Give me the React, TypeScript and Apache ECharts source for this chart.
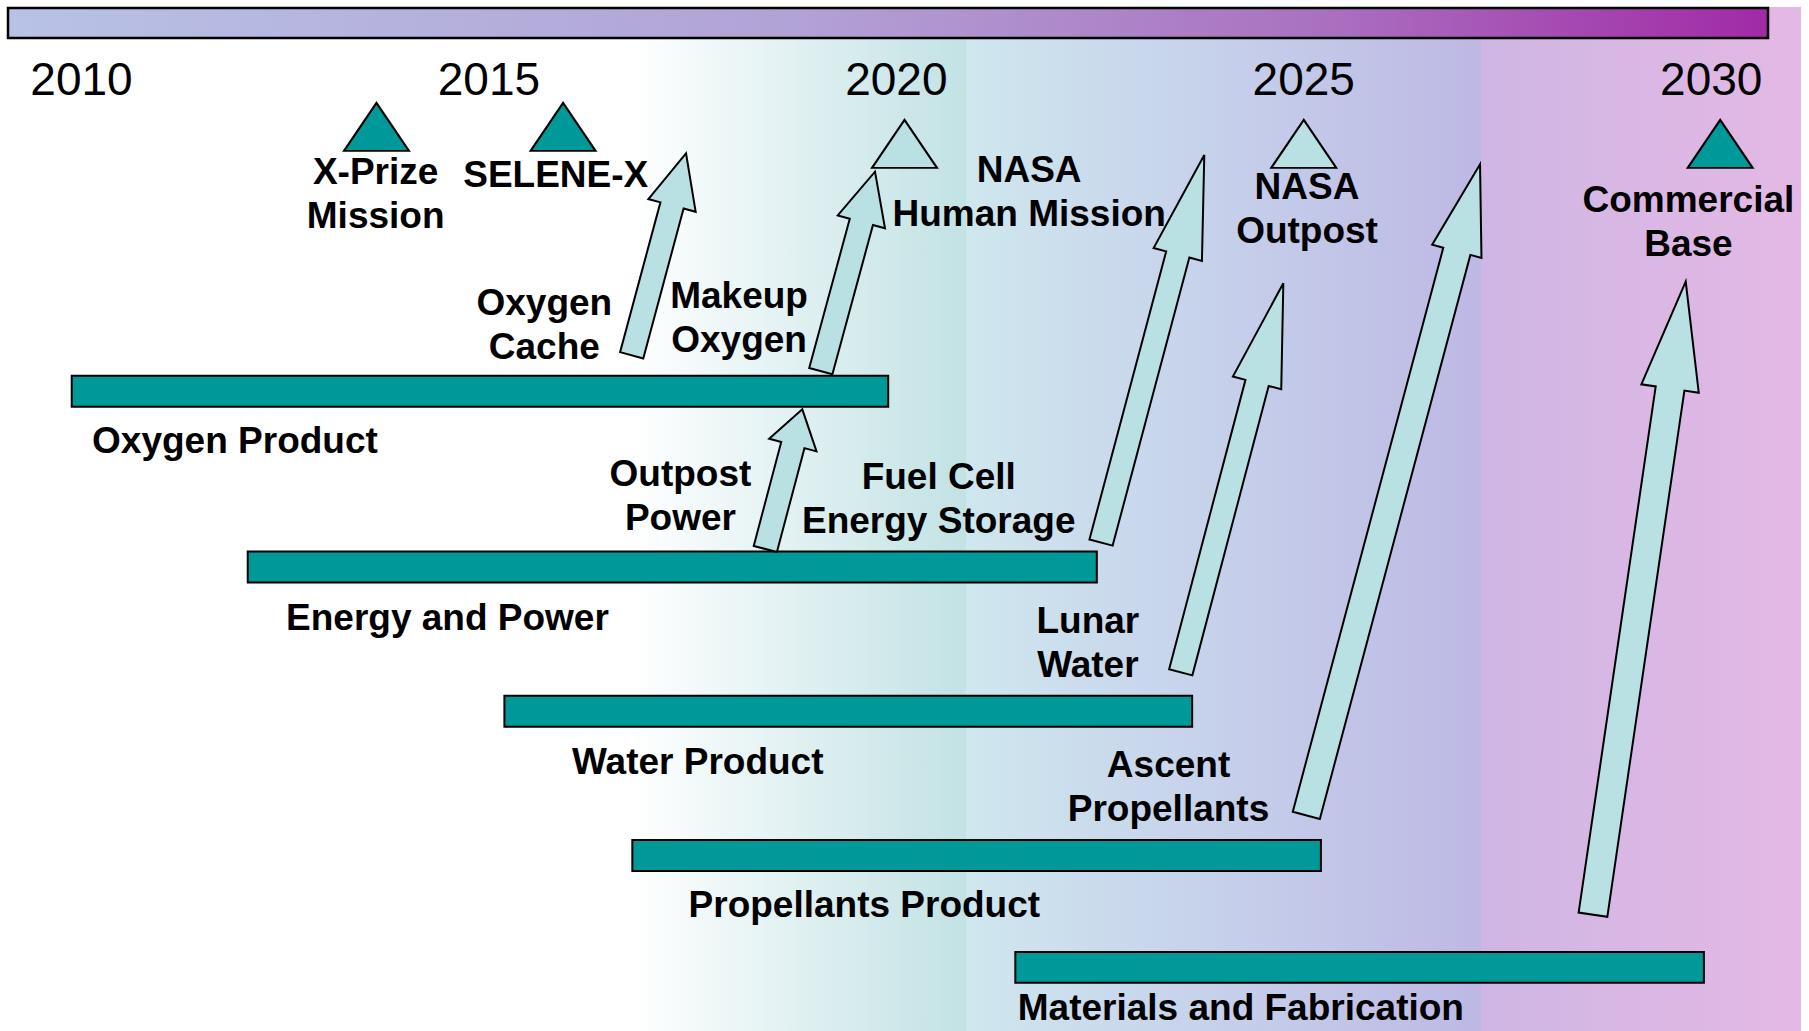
import React, { useEffect, useRef } from 'react';
import * as echarts from 'echarts';

const FONT = '"Liberation Sans", Arial, Helvetica, sans-serif';

// ---- axis ranges (x = calendar year, y = vertical level 0..100, top to bottom)
const YEAR_MIN = 2009;
const YEAR_MAX = 2031.2;
const LEVEL_MIN = 0;
const LEVEL_MAX = 100;
const YEAR_TICKS_EVERY = 5;

// ---- product development bars
const barNames = ['Oxygen Product', 'Energy and Power', 'Water Product', 'Propellants Product', 'Materials and Fabrication'];
const barStart = [2009.88, 2012.04, 2015.19, 2016.76, 2021.46];
const barEnd = [2019.9, 2022.46, 2023.63, 2025.21, 2029.91];
const barLevel = [37.94, 55.0, 68.99, 82.98, 93.83];
const barLabelYear = [2010.13, 2012.51, 2016.02, 2017.45, 2021.49];
const barLabelLevel = [42.74, 59.86, 73.85, 87.73, 97.7];

// ---- milestones (triangles)
const milestoneNames = ['X-Prize\nMission', 'SELENE-X', 'NASA\nHuman Mission', 'NASA\nOutpost', 'Commercial\nBase'];
const milestoneYear = [2013.62, 2015.91, 2020.1, 2025.0, 2030.11];
const milestoneLevel = [12.3, 12.3, 13.95, 13.95, 13.95];
const milestoneFilled = [true, true, false, false, true];
const milestoneLabelYear = [2013.61, 2015.82, 2021.63, 2025.04, 2029.72];
const milestoneLabelLevel = [18.72, 16.88, 18.53, 20.27, 21.53];

// ---- transfer arrows (from a product bar towards a milestone)
const arrowNames = ['Oxygen\nCache', 'Makeup\nOxygen', 'Outpost\nPower', 'Fuel Cell\nEnergy Storage', 'Lunar\nWater', 'Ascent\nPropellants', ''];
const arrowFromYear = [2016.752, 2019.073, 2018.392, 2022.512, 2023.49, 2025.031, 2028.549];
const arrowFromLevel = [34.46, 36.0, 53.25, 52.62, 65.21, 79.08, 88.72];
const arrowToYear = [2017.419, 2019.738, 2018.846, 2023.779, 2024.749, 2027.163, 2029.687];
const arrowToLevel = [14.87, 16.65, 39.7, 15.03, 27.48, 15.94, 27.32];
const arrowLabelYear = [2015.68, 2018.07, 2017.35, 2020.52, 2022.35, 2023.34];
const arrowLabelLevel = [31.43, 30.75, 48.06, 48.38, 62.27, 76.26];

// ---- arrow geometry (pixels)
const arrowShaftWidth = [24, 24, 24, 24, 24, 28, 29];
const arrowHeadWidth = [49, 49, 49, 50, 50, 51, 58];
const arrowHeadLength = [54, 52, 37, 103, 103, 90, 108];

// ---- colours
const TEAL = '#009999';
const LIGHT = '#b9e0e2';

type Label = { text: string; x: number; y: number; align: 'left' | 'center' };

const labels: Label[] = [
  ...barNames.map((t, i) => ({ text: t, x: barLabelYear[i], y: barLabelLevel[i], align: 'left' as const })),
  ...milestoneNames.map((t, i) => ({ text: t, x: milestoneLabelYear[i], y: milestoneLabelLevel[i], align: 'center' as const })),
  ...arrowNames
    .map((t, i) => ({ text: t, x: arrowLabelYear[i], y: arrowLabelLevel[i], align: 'center' as const }))
    .filter((l) => l.text !== ''),
];

function buildOption(): any {
  return {
    animation: false,
    grid: { left: 0, right: 0, top: 0, bottom: 0, containLabel: false },
    xAxis: {
      type: 'value',
      position: 'top',
      min: YEAR_MIN,
      max: YEAR_MAX,
      interval: 1,
      axisLine: { show: false },
      axisTick: { show: false },
      splitLine: { show: false },
      axisLabel: {
        inside: true,
        margin: 56,
        fontSize: 46,
        fontFamily: FONT,
        color: '#000',
        showMinLabel: false,
        showMaxLabel: false,
        formatter: (v: number) => (Math.abs(v % YEAR_TICKS_EVERY) < 1e-6 ? String(Math.round(v)) : ''),
      },
    },
    yAxis: {
      type: 'value',
      min: LEVEL_MIN,
      max: LEVEL_MAX,
      inverse: true,
      show: false,
    },
    graphic: [
      {
        type: 'rect',
        z: -5,
        silent: true,
        shape: { x: 0, y: 7, width: 1801, height: 1024 },
        style: {
          fill: new echarts.graphic.LinearGradient(0, 0, 1, 0, [
            { offset: 0, color: '#ffffff' },
            { offset: 0.35, color: '#ffffff' },
            { offset: 0.536, color: '#c2e2e4' },
            { offset: 0.5365, color: '#cfe7ee' },
            { offset: 0.66, color: '#c7d3eb' },
            { offset: 0.822, color: '#bdb8e4' },
            { offset: 0.8225, color: '#cfb6e4' },
            { offset: 1, color: '#e4b8e4' },
          ]),
        },
      },
      {
        type: 'rect',
        z: -4,
        silent: true,
        shape: { x: 8, y: 8, width: 1760, height: 30 },
        style: {
          fill: new echarts.graphic.LinearGradient(0, 0, 1, 0, [
            { offset: 0, color: '#b8c2e6' },
            { offset: 0.45, color: '#b2a2d5' },
            { offset: 0.75, color: '#aa70c0' },
            { offset: 1, color: '#a12aa6' },
          ]),
          stroke: '#000',
          lineWidth: 2.5,
        },
      },
    ],
    series: [
      {
        type: 'custom',
        name: 'products',
        z: 3,
        silent: true,
        encode: { x: [0, 1], y: 2 },
        data: barNames.map((_, i) => [barStart[i], barEnd[i], barLevel[i]]),
        renderItem: (params: any, api: any) => {
          const p1 = api.coord([api.value(0), api.value(2)]);
          const p2 = api.coord([api.value(1), api.value(2)]);
          const h = api.size([0, 3])[1];
          return {
            type: 'rect',
            shape: { x: p1[0], y: p1[1] - h / 2, width: p2[0] - p1[0], height: h },
            style: { fill: TEAL, stroke: '#000', lineWidth: 2 },
          };
        },
      },
      {
        type: 'custom',
        name: 'transfers',
        z: 4,
        silent: true,
        encode: { x: [0, 2], y: [1, 3] },
        data: arrowFromYear.map((x, i) => [x, arrowFromLevel[i], arrowToYear[i], arrowToLevel[i]]),
        renderItem: (params: any, api: any) => {
          const i = params.dataIndex;
          const t = api.coord([api.value(0), api.value(1)]);
          const p = api.coord([api.value(2), api.value(3)]);
          const dx = p[0] - t[0];
          const dy = p[1] - t[1];
          const len = Math.hypot(dx, dy);
          const ux = dx / len;
          const uy = dy / len;
          const nx = -uy;
          const ny = ux;
          const s = arrowShaftWidth[i] / 2;
          const h = arrowHeadWidth[i] / 2;
          const L = arrowHeadLength[i];
          const bx = p[0] - ux * L;
          const by = p[1] - uy * L;
          const pts = [
            [t[0] + nx * s, t[1] + ny * s],
            [bx + nx * s, by + ny * s],
            [bx + nx * h, by + ny * h],
            [p[0], p[1]],
            [bx - nx * h, by - ny * h],
            [bx - nx * s, by - ny * s],
            [t[0] - nx * s, t[1] - ny * s],
          ];
          return {
            type: 'polygon',
            shape: { points: pts },
            style: { fill: LIGHT, stroke: '#000', lineWidth: 2, lineJoin: 'miter' },
          };
        },
      },
      {
        type: 'scatter',
        name: 'milestones',
        z: 5,
        silent: true,
        symbol: 'triangle',
        symbolSize: [65, 48],
        itemStyle: { borderColor: '#000', borderWidth: 2, opacity: 1 },
        data: milestoneYear.map((x, i) => ({
          value: [x, milestoneLevel[i]],
          itemStyle: { color: milestoneFilled[i] ? TEAL : LIGHT },
        })),
      },
      {
        type: 'custom',
        name: 'labels',
        z: 6,
        silent: true,
        encode: { x: 0, y: 1 },
        data: labels.map((l) => [l.x, l.y]),
        renderItem: (params: any, api: any) => {
          const l = labels[params.dataIndex];
          const p = api.coord([api.value(0), api.value(1)]);
          const multi = l.text.indexOf('\n') >= 0;
          return {
            type: 'text',
            x: p[0],
            y: p[1],
            style: {
              text: l.text,
              fontSize: 37,
              fontWeight: 'bold',
              fontFamily: FONT,
              fill: '#000',
              align: l.align,
              verticalAlign: 'middle',
              lineHeight: multi ? 44 : 38,
            },
          };
        },
      },
    ],
  };
}

export default function App() {
  const ref = useRef<HTMLDivElement>(null);
  useEffect(() => {
    if (!ref.current) return;
    const chart = echarts.init(ref.current, null, { renderer: 'svg' });
    chart.setOption(buildOption());
    return () => {
      chart.dispose();
    };
  }, []);
  return (
    <div
      ref={ref}
      style={{ position: 'absolute', left: 0, top: 0, width: 1809, height: 1031, background: '#ffffff' }}
    />
  );
}
